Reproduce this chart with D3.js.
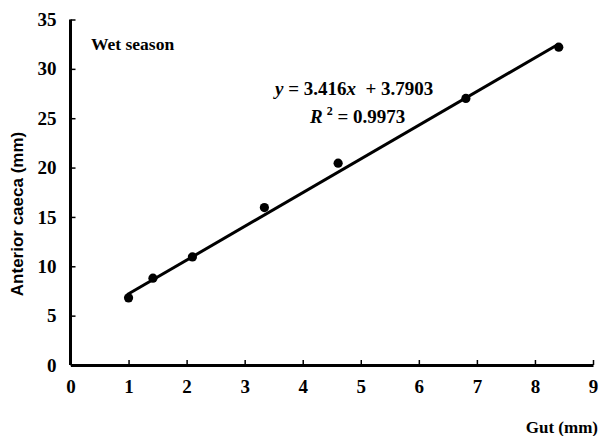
<!DOCTYPE html>
<html><head><meta charset="utf-8">
<script src="https://cdn.jsdelivr.net/npm/d3@7/dist/d3.min.js"></script>
<style>body{margin:0;background:#fff}svg{display:block}</style>
</head><body>
<svg id="c" width="601" height="436"></svg>
<script>
const gutX = [1.0, 1.42, 2.10, 3.34, 4.61, 6.81, 8.41];
const caecaY = [6.8, 8.8, 10.95, 15.95, 20.45, 27.0, 32.2];
const slope = 3.416, intercept = 3.7903;
const xTicks = [0,1,2,3,4,5,6,7,8,9];
const yTicks = [0,5,10,15,20,25,30,35];

const svg = d3.select("#c");
const x = d3.scaleLinear().domain([0,9]).range([70.5,593]);
const y = d3.scaleLinear().domain([0,35]).range([365,19.5]);
const serif = "'Liberation Serif','Times New Roman',serif";

const xa = svg.append("g").attr("transform","translate(0,365)")
  .call(d3.axisBottom(x).tickValues(xTicks).tickSize(-5).tickPadding(15).tickSizeOuter(0));
const ya = svg.append("g").attr("transform","translate(70.5,0)")
  .call(d3.axisLeft(y).tickValues(yTicks).tickSize(-5).tickPadding(14).tickSizeOuter(0));
[xa,ya].forEach(a=>{
  a.select(".domain").attr("stroke","#000").attr("stroke-width",3);
  a.selectAll(".tick line").attr("stroke","#000").attr("stroke-width",1.5);
  a.selectAll("text").attr("font-family",serif).attr("font-size",19).attr("font-weight","bold").attr("fill","#000");
});
ya.select(".domain").attr("d","M0,"+y(35)+"V365");

const x0 = d3.min(gutX)-0.02, x1 = d3.max(gutX);
svg.append("line").attr("x1",x(x0)).attr("y1",y(slope*x0+intercept))
  .attr("x2",x(x1)).attr("y2",y(slope*x1+intercept))
  .attr("stroke","#000").attr("stroke-width",3);

svg.append("g").selectAll("circle").data(gutX).join("circle")
  .attr("cx",d=>x(d)).attr("cy",(d,i)=>y(caecaY[i])).attr("r",4.6).attr("fill","#000");

svg.append("text").attr("x",91).attr("y",50).attr("font-family",serif).attr("font-size",17.5)
  .attr("font-weight","bold").text("Wet season");

const eq = svg.append("text").attr("x",275).attr("y",95).attr("font-family",serif).attr("font-size",19).attr("font-weight","bold")
  .attr("xml:space","preserve").style("white-space","pre");
eq.append("tspan").attr("font-style","italic").text("y");
eq.append("tspan").text(" = 3.416");
eq.append("tspan").attr("font-style","italic").text("x");
eq.append("tspan").text("  + 3.7903");
const r2 = svg.append("text").attr("x",310).attr("y",123).attr("font-family",serif).attr("font-size",19).attr("font-weight","bold");
r2.append("tspan").attr("font-style","italic").text("R");
r2.append("tspan").attr("font-size",12).attr("dy",-8).attr("dx",4).text("2");
r2.append("tspan").attr("dy",8).text(" = 0.9973");

svg.append("text").attr("x",598).attr("y",433).attr("text-anchor","end").attr("font-family",serif)
  .attr("font-size",17).attr("font-weight","bold").text("Gut (mm)");

svg.append("text").attr("transform","translate(23,214) rotate(-90)").attr("text-anchor","middle")
  .attr("font-family","'Liberation Sans',Arial,sans-serif").attr("font-size",17).attr("font-weight","bold")
  .text("Anterior caeca (mm)");
</script>
</body></html>
